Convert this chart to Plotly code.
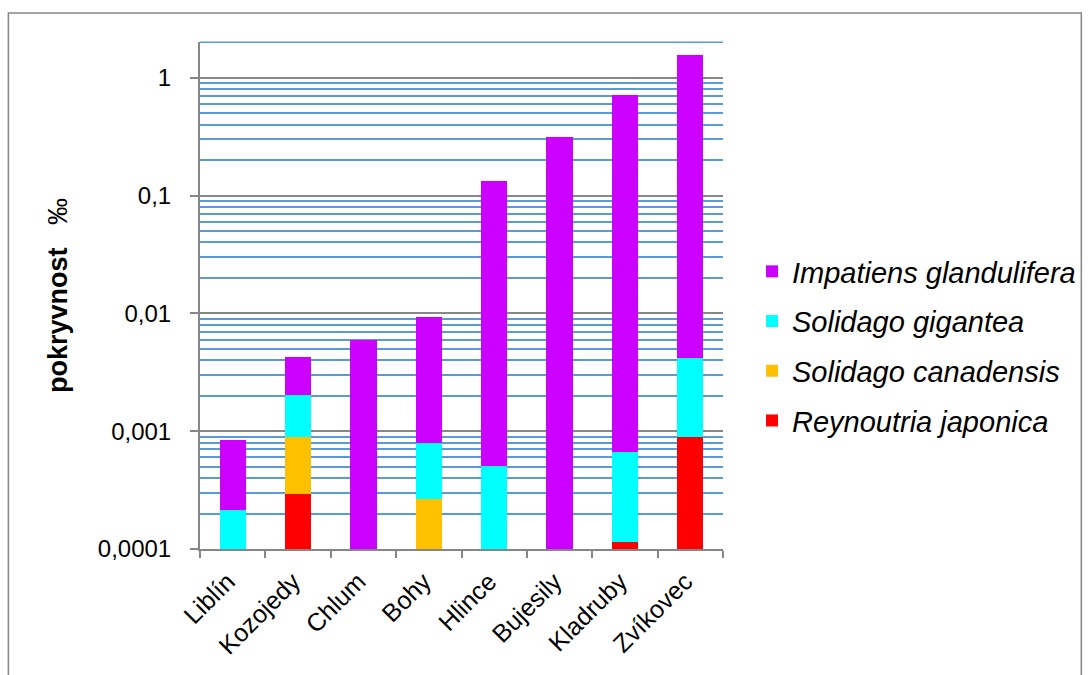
import plotly.graph_objects as go
import math

categories = ["Liblín", "Kozojedy", "Chlum", "Bohy", "Hlince", "Bujesily", "Kladruby", "Zvíkovec"]
reynoutria_japonica = [0, 0.000294, 0, 0, 0, 0, 0.000115, 0.0009]
solidago_canadensis = [0, 0.000603, 0, 0.000267, 0, 0, 0, 0]
solidago_gigantea = [0.000215, 0.00115, 0, 0.00053, 0.000508, 0, 0.000555, 0.00324]
impatiens_glandulifera = [0.000633, 0.00225, 0.00589, 0.0086, 0.1325, 0.315, 0.715, 1.566]

tick_vals = [0.0001, 0.001, 0.01, 0.1, 1]
tick_text = ["0,0001", "0,001", "0,01", "0,1", "1"]
y_min, y_max = 0.0001, 2.0

series = [
    ("Reynoutria japonica", reynoutria_japonica, "#FF0000", 4),
    ("Solidago canadensis", solidago_canadensis, "#FFC000", 3),
    ("Solidago gigantea", solidago_gigantea, "#00FFFF", 2),
    ("Impatiens glandulifera", impatiens_glandulifera, "#CC00FF", 1),
]

FONT = "Liberation Sans, Arial, sans-serif"

fig = go.Figure()
for name, vals, col, rank in series:
    fig.add_trace(go.Bar(
        x=categories, y=vals, name=name, legendgroup=name, legendrank=rank,
        marker=dict(color=col, line=dict(width=0)),
    ))

L, R, T, B = 200, 368, 42, 126
W, H = 1092, 675
pw, ph = W - L - R, H - T - B

lo = math.log10(y_min)
hi = math.log10(y_max * 1.005)
top_grid_paper = (math.log10(y_max) - lo) / (hi - lo)

fig.update_layout(
    width=W, height=H,
    margin=dict(l=L, r=R, t=T, b=B, pad=0),
    barmode="stack",
    bargap=0.6,
    paper_bgcolor="white",
    plot_bgcolor="white",
    font=dict(family=FONT, size=24, color="black"),
    showlegend=True,
    legend=dict(
        traceorder="grouped",
        x=(752 - L) / pw, xanchor="left",
        y=(549 - 346) / ph, yanchor="middle",
        font=dict(family=FONT, size=29, color="black", style="italic"),
        tracegroupgap=9,
        bgcolor="rgba(0,0,0,0)",
    ),
    xaxis=dict(
        showline=True, linecolor="#868686", linewidth=2,
        ticks="outside", tickson="boundaries", ticklen=7, tickwidth=2, tickcolor="#868686",
        tickangle=-45, tickfont=dict(size=25),
        ticklabelstandoff=6, ticklabelshift=-5,
        showgrid=False,
    ),
    yaxis=dict(
        type="log",
        range=[lo, hi],
        tickvals=tick_vals, ticktext=tick_text,
        showline=True, linecolor="#868686", linewidth=2,
        ticks="outside", ticklen=8, tickwidth=2, tickcolor="#868686",
        ticklabelstandoff=14,
        showgrid=True, gridcolor="#878787", gridwidth=2,
        minor=dict(dtick="D1", showgrid=True, gridcolor="#5B9BD5", gridwidth=1.6, ticks=""),
        zeroline=False,
        tickfont=dict(size=24),
        title=dict(text="<b>pokryvnost</b>\u00a0\u00a0\u00a0‰",
                   font=dict(size=27), standoff=22),
    ),
    shapes=[
        dict(
            type="rect", xref="paper", yref="paper",
            x0=(8 - L) / pw, x1=(1083 - L) / pw,
            y0=(549 - 690) / ph, y1=(549 - 13) / ph,
            line=dict(color="#878787", width=1.5), fillcolor="rgba(0,0,0,0)",
            layer="below",
        ),
        dict(
            type="line", xref="paper", yref="paper",
            x0=0, x1=1, y0=top_grid_paper, y1=top_grid_paper,
            line=dict(color="#5B9BD5", width=1.6), layer="below",
        ),
    ],
)

fig.write_html("out.html")
